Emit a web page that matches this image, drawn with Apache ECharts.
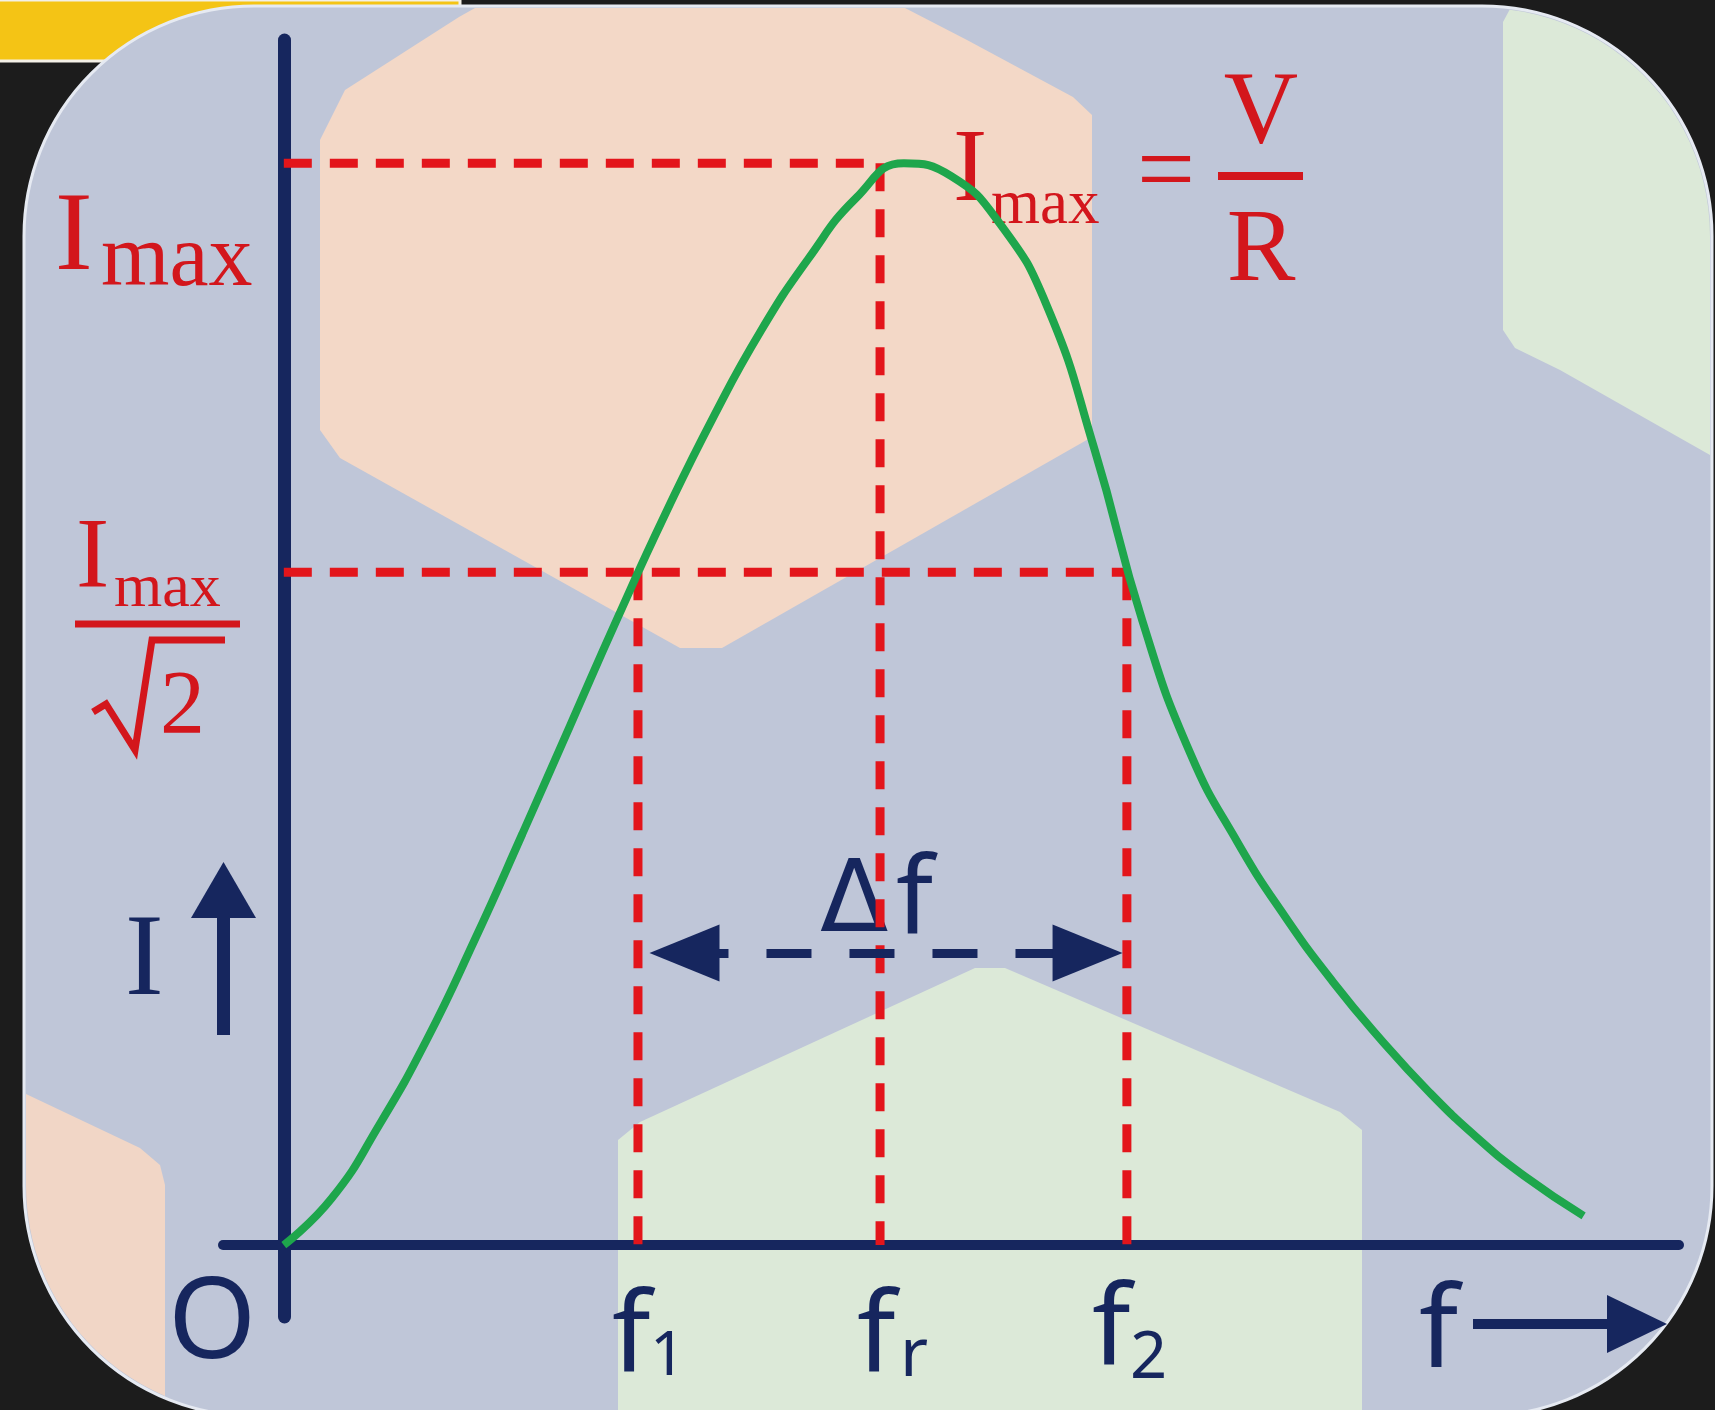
<!DOCTYPE html>
<html>
<head>
<meta charset="utf-8">
<title>Series resonance curve</title>
<script src="https://cdn.jsdelivr.net/npm/echarts@6/dist/echarts.min.js"></script>
<style>
  html, body { margin: 0; padding: 0; background: #1c1c1c; }
  #chart { width: 1715px; height: 1410px; }
</style>
</head>
<body>
<div id="chart"></div>
<script>
// resonance curve, frequency in arbitrary units, current normalised to Imax = 1
const curveF = [0, 4, 8, 12, 16, 20, 24, 28, 32, 36, 40, 44, 48, 52, 56, 60, 64, 68, 72, 76, 80, 84, 88, 92, 96, 100, 104, 109];
const curveI = [0, 0.043, 0.111, 0.19, 0.282, 0.38, 0.48, 0.58, 0.676, 0.765, 0.845, 0.912, 0.968, 1.0, 0.988, 0.945, 0.868, 0.735, 0.577, 0.455, 0.372, 0.303, 0.243, 0.19, 0.142, 0.1, 0.064, 0.027];

// marked frequencies and current levels
const f1 = 29.7, fr = 50, f2 = 70.7;
const Imax = 1.0, Ihalf = 0.622;

// bandwidth arrow (symbol centres) and its height
const dfFrom = 33.6, dfTo = 67.4, dfY = 0.27;

const xRange = [-5.1, 117];
const yRange = [-0.0665, 1.114];

const RED = "#e3151b";
const TEXT_RED = "#d3161c";
const NAVY = "#16265e";
const GREEN = "#1ea64c";
const SERIF = "Liberation Serif";
const SANS = "Noto Sans";

const chart = echarts.init(document.getElementById("chart"));

// text placed by its left edge and baseline
function txt(text, left, base, size, family, color, align) {
  return {
    type: "text",
    z: 1,
    style: {
      text: text,
      x: left,
      y: base - size * 0.245,
      fontSize: size,
      fontFamily: family,
      fill: color,
      textAlign: align || "left",
      textVerticalAlign: "middle",
    },
  };
}

function seg(x1, y1, x2, y2, w, color) {
  return {
    type: "line",
    z: 1,
    shape: { x1: x1, y1: y1, x2: x2, y2: y2 },
    style: { stroke: color, lineWidth: w },
  };
}

// points along a circle arc, used to keep background shapes inside the card
function arc(cx, cy, r, a0, a1, n) {
  const pts = [];
  for (let i = 0; i <= n; i++) {
    const a = ((a0 + ((a1 - a0) * i) / n) * Math.PI) / 180;
    pts.push([cx + r * Math.cos(a), cy + r * Math.sin(a)]);
  }
  return pts;
}

const background = [
  {
    type: "rect",
    z: -20,
    shape: { x: -20, y: 0, width: 480, height: 61, r: [0, 0, 14, 0] },
    style: { fill: "#f4c415", stroke: "#f3f0e6", lineWidth: 3 },
  },
  {
    type: "rect",
    z: -19,
    shape: { x: 24, y: 6, width: 1688, height: 1410, r: 230 },
    style: { fill: "#bfc6d8", stroke: "#e6eaf2", lineWidth: 3 },
  },
  {
    type: "polygon",
    z: -18,
    shape: {
      points: [
        [320, 430], [320, 140], [345, 90], [459, 17], [475, 8], [905, 8],
        [967, 40], [1073, 97], [1092, 115], [1092, 437], [722, 648],
        [680, 648], [340, 458],
      ],
    },
    style: { fill: "#f3d8c7" },
  },
  {
    type: "polygon",
    z: -18,
    shape: {
      points: [[1503, 330], [1503, 22], [1510, 9]]
        .concat(arc(1482, 236, 228, -83, 0, 24))
        .concat([[1710, 455], [1560, 370], [1515, 348]]),
    },
    style: { fill: "#dce9d8" },
  },
  {
    type: "polygon",
    z: -18,
    shape: {
      points: [
        [618, 1414], [618, 1140], [640, 1122], [975, 968], [1005, 968],
        [1340, 1112], [1362, 1130], [1362, 1414],
      ],
    },
    style: { fill: "#dce9d8" },
  },
  {
    type: "polygon",
    z: -18,
    shape: {
      points: [[26, 1094], [140, 1148], [160, 1165], [165, 1185], [165, 1396]]
        .concat(arc(254, 1186, 228, 113, 180, 20))
        .concat([[26, 1186]]),
    },
    style: { fill: "#f1d6c6" },
  },
];

const labels = [
  // Imax on the current axis
  txt("I", 55, 267, 113, SERIF, TEXT_RED),
  txt("max", 101, 283, 88, SERIF, TEXT_RED),
  // Imax / sqrt(2)
  txt("I", 76, 584, 100, SERIF, TEXT_RED),
  txt("max", 114, 605, 62, SERIF, TEXT_RED),
  seg(75, 624, 240, 624, 7, TEXT_RED),
  {
    type: "polyline",
    z: 1,
    shape: { points: [[93, 712], [106, 704], [135, 750], [152, 640], [225, 640]] },
    style: { stroke: TEXT_RED, lineWidth: 7, fill: null },
  },
  txt("2", 160, 731, 90, SERIF, TEXT_RED),
  // Imax = V / R
  txt("I", 953, 198, 103, SERIF, TEXT_RED),
  txt("max", 991, 222, 63, SERIF, TEXT_RED),
  txt("=", 1166, 202, 103, SERIF, TEXT_RED, "center"),
  txt("V", 1261, 140, 103, SERIF, TEXT_RED, "center"),
  seg(1218, 176, 1303, 176, 8, TEXT_RED),
  txt("R", 1261, 278, 103, SERIF, TEXT_RED, "center"),
  // I with arrow
  txt("I", 125, 992, 116, SERIF, NAVY),
  seg(223.5, 915, 223.5, 1035, 13, NAVY),
  {
    type: "polygon",
    z: 1,
    shape: { points: [[223.5, 862], [256, 918], [191, 918]] },
    style: { fill: NAVY },
  },
  // frequency labels
  txt("O", 168, 1353, 113, SANS, NAVY),
  txt("f", 612, 1367, 112, SANS, NAVY),
  txt("1", 650, 1373, 62, SANS, NAVY),
  txt("f", 857, 1367, 112, SANS, NAVY),
  txt("r", 900, 1373, 68, SANS, NAVY),
  txt("f", 1092, 1360, 112, SANS, NAVY),
  txt("2", 1130, 1375, 65, SANS, NAVY),
  txt("f", 1419, 1362, 114, SANS, NAVY),
  seg(1473, 1324, 1610, 1324, 10, NAVY),
  {
    type: "polygon",
    z: 1,
    shape: { points: [[1667, 1324], [1607, 1295], [1607, 1353]] },
    style: { fill: NAVY },
  },
  txt("Δ", 820, 930, 100, "DejaVu Sans", NAVY),
  txt("f", 896, 930, 108, SANS, NAVY),
];

const dashStyle = { color: RED, width: 9, type: [28, 18] };

function guide(name, pts) {
  return {
    name: name,
    type: "line",
    data: pts,
    symbol: "none",
    silent: true,
    z: 3,
    lineStyle: dashStyle,
  };
}

const option = {
  animation: false,
  backgroundColor: "#1c1c1c",
  grid: { left: 223, right: 36, top: 40, bottom: 93, containLabel: false },
  xAxis: {
    type: "value",
    min: xRange[0],
    max: xRange[1],
    axisLine: { onZero: true, lineStyle: { color: NAVY, width: 10 } },
    axisTick: { show: false },
    axisLabel: { show: false },
    splitLine: { show: false },
  },
  yAxis: {
    type: "value",
    min: yRange[0],
    max: yRange[1],
    axisLine: { onZero: true, lineStyle: { color: NAVY, width: 13 } },
    axisTick: { show: false },
    axisLabel: { show: false },
    splitLine: { show: false },
  },
  graphic: background.concat(labels),
  series: [
    guide("Imax", [[0, Imax], [fr, Imax]]),
    guide("fr", [[fr, Imax], [fr, 0]]),
    guide("half", [[0, Ihalf], [f2, Ihalf]]),
    guide("f1", [[f1, Ihalf], [f1, 0]]),
    guide("f2", [[f2, Ihalf], [f2, 0]]),
    {
      name: "I",
      type: "line",
      data: curveF.map((f, i) => [f, curveI[i]]),
      smooth: 0.5,
      symbol: "none",
      z: 4,
      lineStyle: { color: GREEN, width: 8 },
    },
    {
      name: "bandwidth",
      type: "line",
      data: [],
      z: 5,
      markLine: {
        silent: true,
        symbol: ["triangle", "triangle"],
        symbolSize: [57, 70],
        label: { show: false },
        lineStyle: { color: NAVY, width: 9, type: [45, 38], dashOffset: 1 },
        data: [[{ coord: [dfFrom, dfY] }, { coord: [dfTo, dfY] }]],
      },
    },
  ],
};

chart.setOption(option);
</script>
</body>
</html>
